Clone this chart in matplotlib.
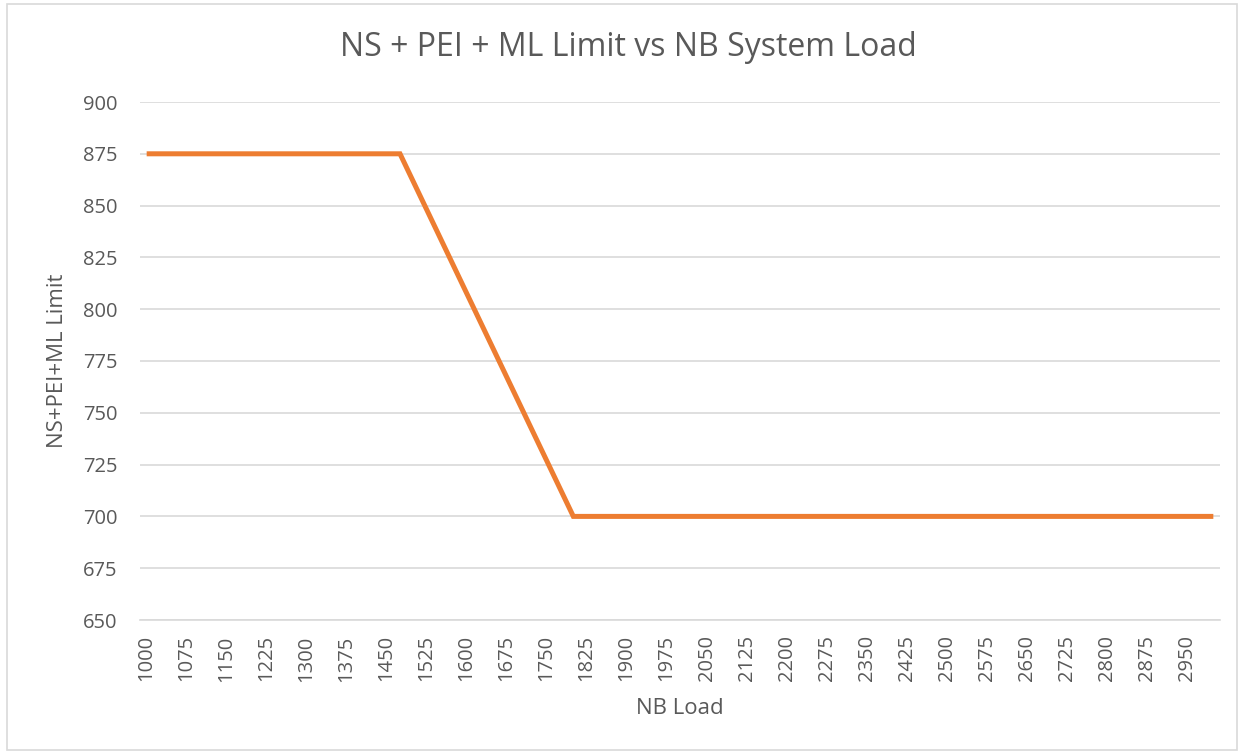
import matplotlib.pyplot as plt
from matplotlib.patches import Rectangle

# chart data
nb_load = [1000, 1475, 1800, 3000]
limit = [875, 875, 700, 700]

x_ticks = list(range(1000, 3000, 75))
y_ticks = list(range(650, 901, 25))

plt.rcParams['font.family'] = ['Open Sans', 'DejaVu Sans']
text_col = '#595959'
grid_col = '#D9D9D9'

fig = plt.figure(figsize=(12.44, 7.55), dpi=100)
ax = fig.add_axes([140 / 1244, 1 - 620 / 755, 1080 / 1244, 518 / 755])

ax.plot(nb_load, limit, color='#ED7D31', lw=3.6, solid_capstyle='butt',
        solid_joinstyle='miter', zorder=3)

ax.set_xlim(987.5, 3012.5)
ax.set_ylim(650, 900)
ax.set_xticks(x_ticks)
ax.set_xticklabels([str(v) for v in x_ticks], rotation=90)
ax.set_yticks(y_ticks)
ax.tick_params(axis='both', length=0, labelsize=14.5, colors=text_col)
ax.tick_params(axis='x', pad=11)
ax.tick_params(axis='y', pad=16)

ax.grid(axis='y', color=grid_col, lw=1.2)
ax.set_axisbelow(True)
for s in ['top', 'right', 'left']:
    ax.spines[s].set_visible(False)
ax.spines['bottom'].set_color(grid_col)
ax.spines['bottom'].set_linewidth(1.2)

fig.text(628 / 1244, 1 - 47 / 755, 'NS + PEI + ML Limit vs NB System Load',
         fontsize=23, color=text_col, ha='center', va='center')
ax.set_xlabel('NB Load', fontsize=16, color=text_col)
ax.set_ylabel('NS+PEI+ML Limit', fontsize=16, color=text_col)
ax.xaxis.set_label_coords((680 - 140) / 1080, (620 - 698) / 518)
ax.yaxis.set_label_coords((68 - 140) / 1080, 0.5)

# outer chart border
fig.patches.append(Rectangle((7 / 1244, 5 / 755), 1230 / 1244, 746 / 755,
                             transform=fig.transFigure, fill=False,
                             edgecolor=grid_col, lw=1.2))

plt.savefig('out.png', dpi=100)
